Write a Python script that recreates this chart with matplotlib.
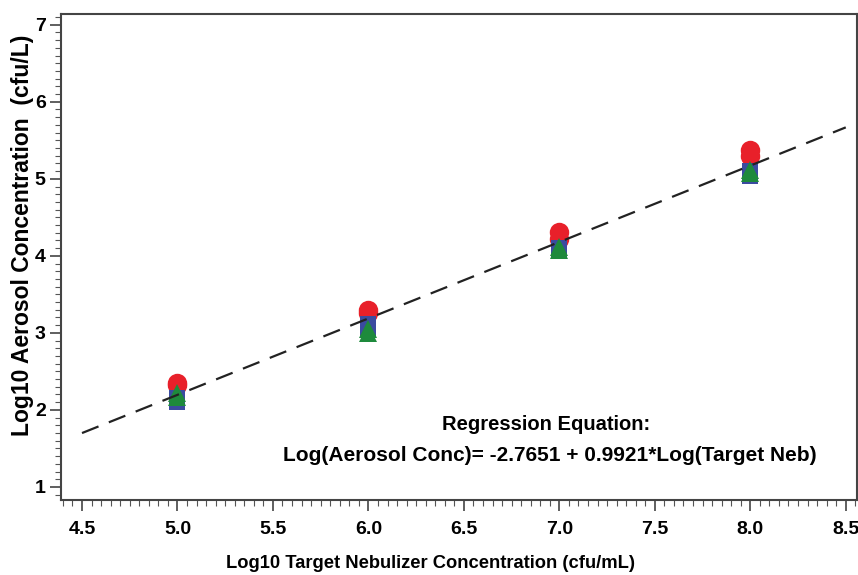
import matplotlib
matplotlib.use("Agg")
import matplotlib.pyplot as plt
import numpy as np
from matplotlib.ticker import MultipleLocator

plt.rcParams['font.family'] = ['Liberation Sans', 'DejaVu Sans']

# data
x_red = [5, 5, 6, 6, 7, 7, 8, 8]
y_red = [2.32, 2.35, 3.26, 3.30, 4.22, 4.31, 5.29, 5.37]
x_blue = [5, 5, 6, 6, 7, 7, 8, 8]
y_blue = [2.10, 2.15, 3.06, 3.12, 4.06, 4.10, 5.04, 5.10]
x_green = [5, 5, 6, 6, 7, 7, 8, 8]
y_green = [2.17, 2.22, 3.00, 3.05, 4.08, 4.12, 5.08, 5.12]
intercept = -2.7651
slope = 0.9921
line_x = [4.5, 8.5]
xticks = [4.5, 5.0, 5.5, 6.0, 6.5, 7.0, 7.5, 8.0, 8.5]
yticks = [1, 2, 3, 4, 5, 6, 7]

fig = plt.figure(figsize=(8.58, 5.75), dpi=100)
ax = fig.add_axes([0.0711, 0.1304, 0.928, 0.8453])

ax.plot(x_red, y_red, 'o', color='#E8202A', markersize=14, markeredgewidth=0, zorder=3)
ax.plot(x_blue, y_blue, 's', color='#3B4BA0', markersize=11.5, markeredgewidth=0, zorder=4)
ax.plot(x_green, y_green, '^', color='#1E8A3C', markersize=12.5, markeredgewidth=0, zorder=5)

lx = np.array(line_x)
ax.plot(lx, intercept + slope * lx, color='#222222', linestyle=(0, (8, 5)), linewidth=1.6, zorder=6)

ax.set_xlim(4.39, 8.56)
ax.set_ylim(0.83, 7.14)
ax.set_xticks(xticks)
ax.set_xticklabels([f"{v:.1f}" for v in xticks])
ax.set_yticks(yticks)
ax.xaxis.set_minor_locator(MultipleLocator(0.05))
ax.yaxis.set_minor_locator(MultipleLocator(0.1))
ax.tick_params(which='major', length=8, width=1.2, labelsize=14, direction='out', color='#444444')
ax.tick_params(which='minor', length=4, width=0.8, direction='out', color='#555555')
for lab in ax.get_xticklabels() + ax.get_yticklabels():
    lab.set_fontweight('bold')
ax.tick_params(axis='x', pad=7)
ax.tick_params(axis='y', pad=3)

for s in ax.spines.values():
    s.set_linewidth(1.5)
    s.set_color('#444444')

ax.set_xlabel('Log10 Target Nebulizer Concentration (cfu/mL)', fontsize=13.2, fontweight='bold')
ax.xaxis.set_label_coords(0.4636, -0.113)
ax.set_ylabel('Log10 Aerosol Concentration  (cfu/L)', fontsize=16.5, fontweight='bold')
ax.yaxis.set_label_coords(-0.034, 0.545)

ax.text(6.93, 1.81, 'Regression Equation:', fontsize=14.5, fontweight='bold', ha='center', va='center')
ax.text(6.95, 1.41, 'Log(Aerosol Conc)= -2.7651 + 0.9921*Log(Target Neb)', fontsize=15, fontweight='bold', ha='center', va='center')

fig.savefig('out.png', dpi=100)
